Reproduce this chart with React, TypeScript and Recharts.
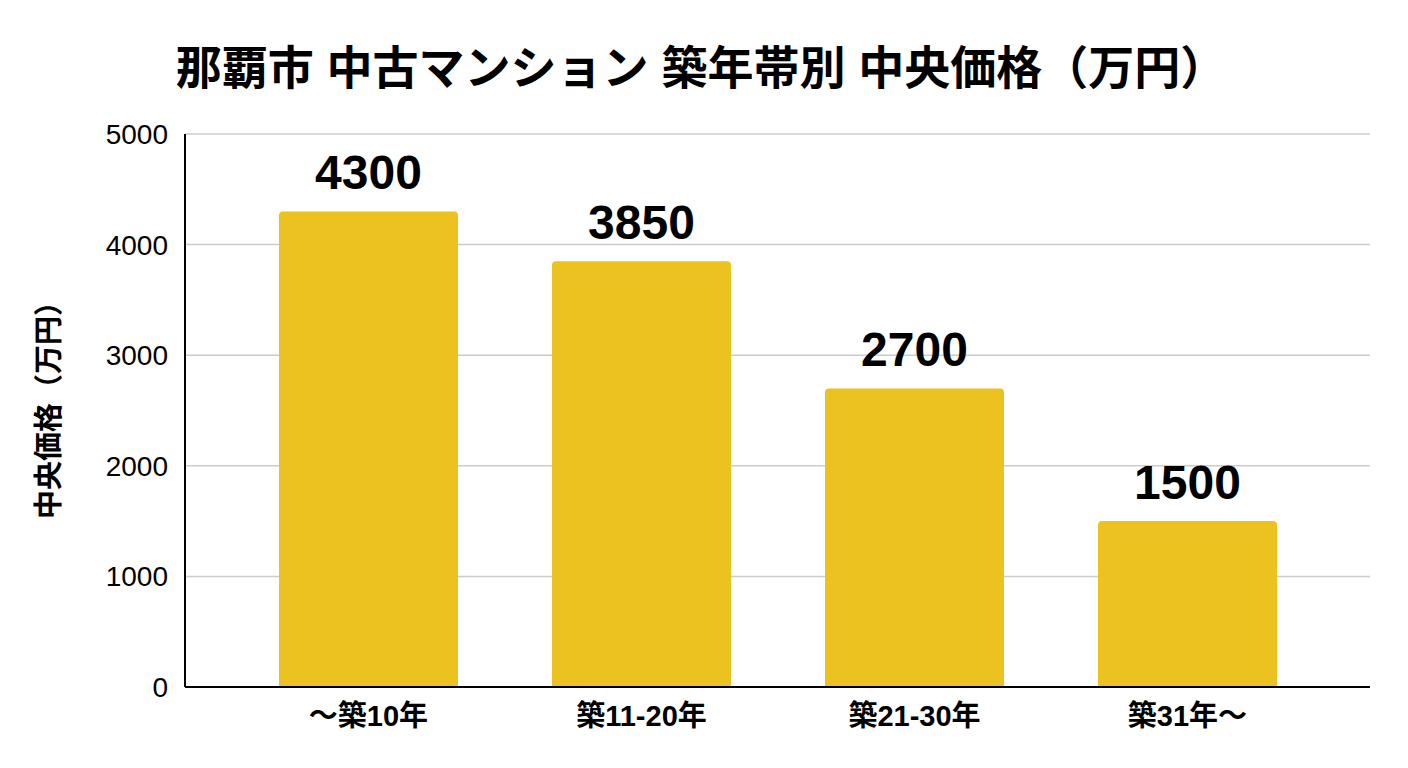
import React from "react";
import { BarChart, Bar, XAxis, YAxis, CartesianGrid, LabelList } from "recharts";

// categories and median prices (万円)
const ageBands = ["〜築10年", "築11-20年", "築21-30年", "築31年〜"];
const medianPrices = [4300, 3850, 2700, 1500];
const yTicks = [0, 1000, 2000, 3000, 4000, 5000];

const FONT = '"Liberation Sans", "Noto Sans CJK JP", sans-serif';

export default function App() {
  const chartData = ageBands.map((band, i) => ({
    band,
    price: medianPrices[i],
  }));

  return (
    <div
      style={{
        position: "absolute",
        left: 0,
        top: 0,
        width: 1408,
        height: 768,
        background: "#fff",
        fontFamily: FONT,
      }}
    >
      <div
        style={{
          position: "absolute",
          left: 0,
          top: 38,
          width: 1402,
          textAlign: "center",
          fontSize: 46,
          fontWeight: 700,
          lineHeight: "60px",
          color: "#000",
        }}
      >
        那覇市 中古マンション 築年帯別 中央価格（万円）
      </div>
      <div
        style={{
          position: "absolute",
          left: 46,
          top: 403,
          transform: "translate(-50%, -50%) rotate(-90deg)",
          whiteSpace: "nowrap",
          fontSize: 29,
          fontWeight: 700,
          color: "#000",
        }}
      >
        中央価格（万円）
      </div>
      <BarChart
        width={1408}
        height={768}
        data={chartData}
        margin={{ top: 134, right: 38, left: 0, bottom: 21 }}
        style={{ position: "absolute", left: 0, top: 0 }}
      >
        <CartesianGrid vertical={false} stroke="#cccccc" strokeWidth={1.5} />
        <XAxis
          dataKey="band"
          height={60}
          axisLine={{ stroke: "#000", strokeWidth: 2 }}
          tickLine={false}
          tickSize={0}
          tickMargin={18}
          padding={{ left: 47, right: 46 }}
          tick={{ fontSize: 29, fontWeight: 700, fill: "#000", fontFamily: FONT }}
        />
        <YAxis
          width={185}
          domain={[0, 5000]}
          ticks={yTicks}
          axisLine={{ stroke: "#000", strokeWidth: 2 }}
          tickLine={false}
          tickSize={0}
          tickMargin={17}
          tick={{ fontSize: 28, fill: "#000", fontFamily: FONT }}
        />
        <Bar
          dataKey="price"
          fill="#EBC21F"
          barSize={179}
          radius={[4, 4, 0, 0]}
          isAnimationActive={false}
        >
          <LabelList
            dataKey="price"
            position="top"
            offset={22}
            style={{ fontSize: 48, fontWeight: 700, fill: "#000", fontFamily: FONT }}
          />
        </Bar>
      </BarChart>
    </div>
  );
}
